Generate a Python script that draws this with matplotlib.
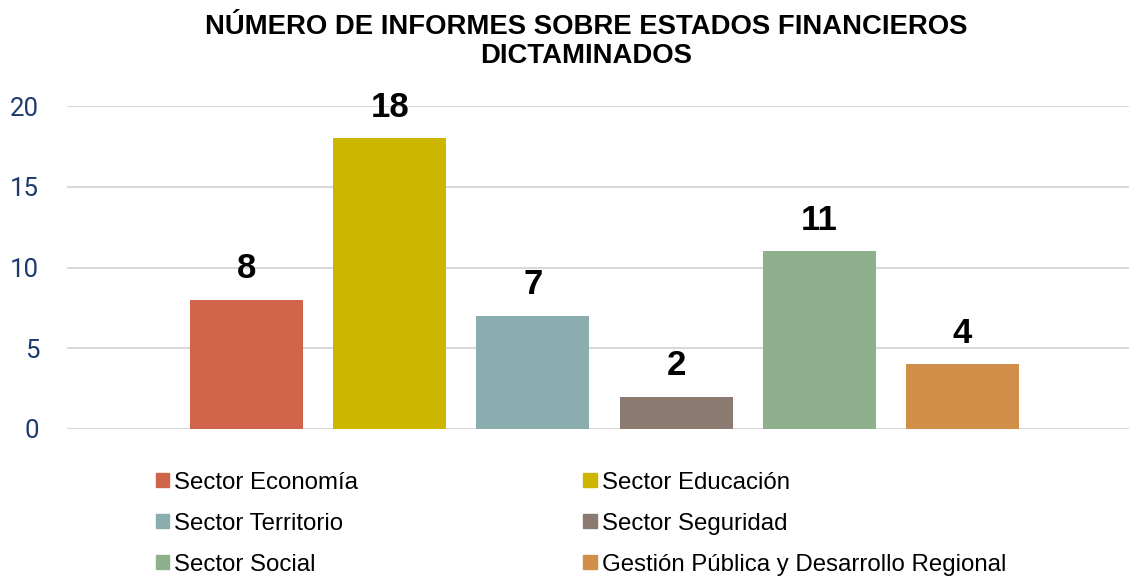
import matplotlib
matplotlib.use("Agg")
import matplotlib.pyplot as plt
from matplotlib.patches import Patch

categories = ["Sector Economía", "Sector Educación", "Sector Territorio",
              "Sector Seguridad", "Sector Social", "Gestión Pública y Desarrollo Regional"]
values = [8, 18, 7, 2, 11, 4]
colors = ["#D0644A", "#CDB600", "#8BADB0", "#8B7A70", "#8FB08C", "#D18F4A"]
yticks = [0, 5, 10, 15, 20]
title = "NÚMERO DE INFORMES SOBRE ESTADOS FINANCIEROS\nDICTAMINADOS"

fig = plt.figure(figsize=(11.29, 5.77), dpi=100)
ax = fig.add_axes([67/1129, 1-429/577, 1-67/1129, (429-106)/577])

x = list(range(len(values)))
bars = ax.bar(x, values, width=113/143, color=colors, zorder=3)
for xi, v in zip(x, values):
    ax.annotate(str(v), (xi, v), xytext=(0, 22.5), textcoords="offset points",
                ha="center", va="center", fontsize=25, fontweight="bold",
                family="Liberation Sans", color="black")

ax.set_xlim(-0.5 - 108/143, 5.5 + 95/143)
ax.set_ylim(0, 20)
ax.set_yticks(yticks)
ax.set_yticklabels([str(t) for t in yticks], family="Roboto", fontsize=18.5, color="#1F3A6E")
ax.tick_params(axis="y", length=0, pad=20)
ax.tick_params(axis="x", length=0, labelbottom=False)
ax.grid(axis="y", color="#D9D9D9", linewidth=1.5, zorder=0)
for s in ax.spines.values():
    s.set_visible(False)

fig.text(586/1129, 1-41.5/577, title, ha="center", va="center", fontsize=19.8,
         fontweight="bold", family="Liberation Sans", linespacing=1.17)

handles = [Patch(color=c) for c in colors]
order = [0, 2, 4, 1, 3, 5]
leg = fig.legend([handles[i] for i in order], [categories[i] for i in order],
                 ncol=2, loc="upper left", bbox_to_anchor=(146/1129, 1-462/577),
                 borderaxespad=0, frameon=False, handlelength=0.55, handleheight=0.55,
                 handletextpad=0.2, columnspacing=9.4, labelspacing=0.79,
                 prop={"family": "Liberation Sans", "size": 17.3})

fig.savefig("out.png", dpi=100)
